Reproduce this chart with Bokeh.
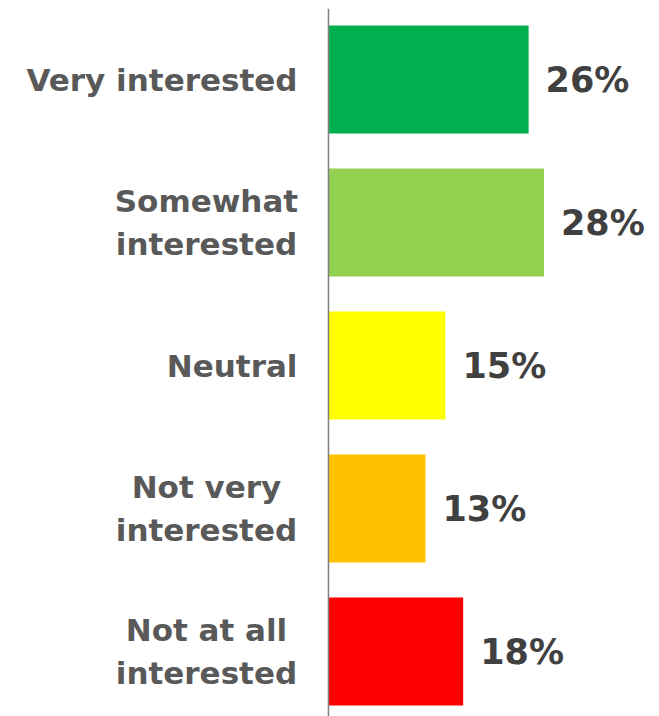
from bokeh.plotting import figure
from bokeh.models import Range1d, Span, ColumnDataSource
from bokeh.core.properties import value
from bokeh.embed import file_html
from bokeh.resources import INLINE

categories = ["Very interested", "Somewhat\ninterested", "Neutral", "Not very\ninterested", "Not at all\ninterested"]
values = [26.0, 28.0, 15.2, 12.6, 17.5]
pct_labels = ["26%", "28%", "15%", "13%", "18%"]
colors = ["#00B050", "#92D050", "#FFFF00", "#FFC000", "#FF0000"]

pos = list(range(len(categories)))
aligns = ["center" if "\n" in c else "right" for c in categories]
offsets = [-122 if "\n" in c else -31 for c in categories]
src = ColumnDataSource(dict(y=pos, v=values, cat=categories, pct=pct_labels, color=colors,
                            zero=[0] * len(pos), align=aligns, off=offsets))

W, H = 659, 716
p = figure(width=W, height=H, output_backend="svg", toolbar_location=None,
           x_range=Range1d(-42.6, 43.0), y_range=Range1d(4.454, -0.497),
           min_border=0, min_border_top=8, outline_line_color=None)
p.xaxis.visible = False
p.yaxis.visible = False
p.grid.visible = False

p.hbar(y="y", left=0, right="v", height=0.755, fill_color="color", line_color=None, source=src)
p.add_layout(Span(location=0, dimension="height", line_color="#7F7F7F", line_width=1.5))

p.text(x="zero", y="y", text="cat", source=src, x_offset="off", text_align="align",
       text_baseline="middle", text_font=value("DejaVu Sans"), text_font_style="bold",
       text_font_size="31px", text_color="#595959", text_line_height=1.2)
p.text(x="v", y="y", text="pct", source=src, x_offset=17, text_align="left",
       text_baseline="middle", text_font=value("DejaVu Sans"), text_font_style="bold",
       text_font_size="35px", text_color="#404040")

open("out.html", "w").write(file_html(p, INLINE))
